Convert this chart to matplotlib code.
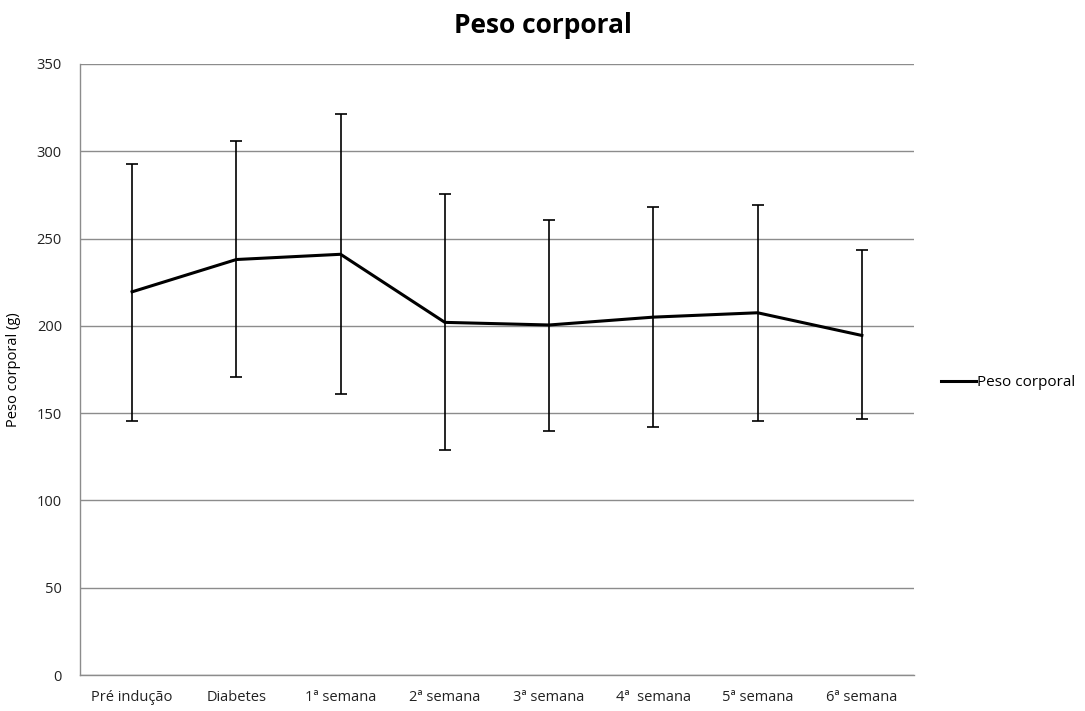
"""
Peso corporal ao longo do experimento: média com desvio padrão.
"""

import matplotlib
matplotlib.use("Agg")
import matplotlib.pyplot as plt
from matplotlib.lines import Line2D

# ------------------------------------------------------------------ #
#  Dados
# ------------------------------------------------------------------ #

categorias = ["Pré indução", "Diabetes", "1ª semana", "2ª semana",
              "3ª semana", "4ª  semana", "5ª semana", "6ª semana"]
peso_medio = [219.5, 238, 241, 202, 200.5, 205, 207.5, 194.5]
erro_sup = [293, 306, 321.5, 275.5, 260.5, 268, 269, 243.5]
erro_inf = [145.5, 170.5, 161, 129, 140, 142, 145.5, 146.5]

yticks = [0, 50, 100, 150, 200, 250, 300, 350]

# ------------------------------------------------------------------ #
#  Plot
# ------------------------------------------------------------------ #

plt.rcParams["font.family"] = ["Open Sans", "DejaVu Sans"]

fig = plt.figure(figsize=(10.85, 7.11), dpi=100)
ax = fig.add_axes([0.0737, 0.0506, 0.7687, 0.8594])

x = list(range(len(categorias)))
yerr = [[m - lo for m, lo in zip(peso_medio, erro_inf)],
        [hi - m for m, hi in zip(peso_medio, erro_sup)]]

ax.errorbar(x, peso_medio, yerr=yerr, color="black", linewidth=2.2,
            ecolor="black", elinewidth=1.2, capsize=4, capthick=1.2,
            zorder=3)

ax.set_xlim(-0.5, len(categorias) - 0.5)
ax.set_ylim(0, 350)
ax.set_yticks(yticks)
ax.set_xticks(x)
ax.set_xticklabels(categorias)

ax.grid(axis="y", color="#8c8c8c", linewidth=1.0)
ax.set_axisbelow(True)
for side in ("top", "right"):
    ax.spines[side].set_visible(False)
for side in ("left", "bottom"):
    ax.spines[side].set_color("#8c8c8c")
    ax.spines[side].set_linewidth(1.0)

ax.tick_params(axis="both", length=0, labelsize=10.5, colors="#222222")
ax.tick_params(axis="y", pad=13)
ax.tick_params(axis="x", pad=11)

ax.set_ylabel("Peso corporal (g)", fontsize=10.5, labelpad=11)

# Título centrado na figura inteira (como no Excel)
fig.text(0.5, 0.954, "Peso corporal", fontsize=19, fontweight="bold",
         ha="center", va="baseline")

handle = Line2D([], [], color="black", linewidth=2.2)
ax.legend([handle], ["Peso corporal"], loc="center left",
          bbox_to_anchor=(1.016, 0.478), frameon=False,
          fontsize=11, handlelength=2.3, handletextpad=0.05)

fig.savefig("out.png", dpi=100)
plt.close(fig)
